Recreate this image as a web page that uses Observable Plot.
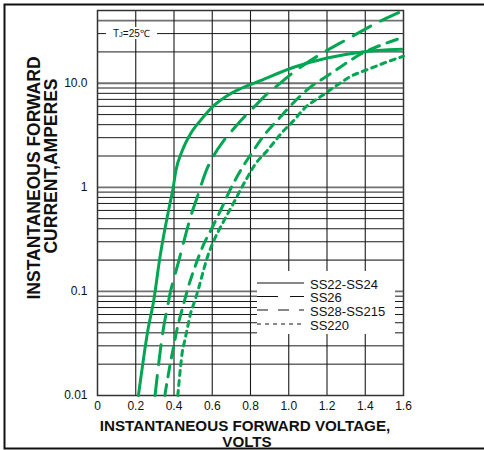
<!DOCTYPE html>
<html><head><meta charset="utf-8">
<script src="https://cdn.jsdelivr.net/npm/d3@7"></script>
<script src="https://cdn.jsdelivr.net/npm/@observablehq/plot@0.6"></script>
<style>
body{margin:0;background:#fff;}
#chart{width:484px;height:450px;position:relative;overflow:hidden;}
</style></head><body><div id="chart"></div>
<script>
// ---- data ----
const seriesNames = ["SS22-SS24", "SS26", "SS28-SS215", "SS220"];

const ss22V = [0.214,0.263,0.294,0.326,0.382,0.394,0.41,0.443,0.486,0.543,0.608,0.678,0.755,0.852,1.026,1.201,1.375,1.59];
const ss22A = [0.01,0.042,0.082,0.21,0.745,0.95,1.45,2.25,3.26,4.5,6.1,7.6,9.0,10.6,14.25,17.5,19.9,21.2];

const ss26V = [0.301,0.3205,0.342,0.364,0.382,0.399,0.425,0.443,0.469,0.486,0.521,0.574,0.608,0.660,0.704,0.774,0.817,0.887,0.940,1.026,1.156,1.312,1.454,1.6];
const ss26A = [0.01,0.0206,0.041,0.068,0.1,0.132,0.197,0.265,0.398,0.515,0.80,1.53,2.02,2.81,3.51,4.89,5.88,7.9,9.5,12.8,18.5,26.9,37.5,50];

const ss28V = [0.352,0.376,0.396,0.418,0.448,0.477,0.512,0.552,0.600,0.647,0.687,0.748,0.809,0.870,0.952,1.032,1.118,1.196,1.284,1.379,1.476,1.6];
const ss28A = [0.01,0.0182,0.0284,0.0451,0.0728,0.114,0.177,0.275,0.412,0.619,0.896,1.45,2.17,3.14,4.65,6.71,9.33,11.6,14.9,19.2,23.0,27.7];

const ss220V = [0.42,0.434,0.443,0.456,0.469,0.486,0.509,0.530,0.556,0.574,0.608,0.652,0.704,0.774,0.826,0.887,0.974,1.026,1.079,1.175,1.262,1.323,1.419,1.489,1.6];
const ss220A = [0.01,0.0186,0.0259,0.0336,0.0435,0.0607,0.0815,0.109,0.164,0.212,0.307,0.445,0.667,1.16,1.68,2.25,3.51,4.38,5.67,7.62,9.86,11.6,13.7,15.4,18.2];

const xTicks = [0,0.2,0.4,0.6,0.8,1.0,1.2,1.4,1.6];
const xTickLabels = ["0","0.2","0.4","0.6","0.8","1.0","1.2","1.4","1.6"];
const yTicks = [0.01,0.1,1,10,50];
const yTickLabels = ["0.01","0.1","1","10.0","50"];

const xTitle1 = "INSTANTANEOUS FORWARD VOLTAGE,";
const xTitle2 = "VOLTS";
const yTitle1 = "INSTANTANEOUS FORWARD";
const yTitle2 = "CURRENT,AMPERES";
const noteLabel = ["T", "J", "=25℃"];

// ---- build ----
const seriesV = [ss22V, ss26V, ss28V, ss220V];
const seriesA = [ss22A, ss26A, ss28A, ss220A];
const dashes = [null, "20,11", "11,8", "5,5"];
const legendDashes = [null, "21,12", "11,10", "4,4"];
const green = "#00a651";

const tables = seriesNames.map((name, k) => seriesV[k].map((v, i) => ({series: name, v, a: seriesA[k][i]})));

// log grid positions (1..9 per decade)
const yGrid = [];
for (const dec of [0.01, 0.1, 1, 10]) for (let m = 1; m <= 9; m++) { const val = +(dec * m).toPrecision(3); if (val <= 50) yGrid.push(val); }
const yGray = [0.1, 0.2, 1, 10, 40];
const yBlack = yGrid.filter(d => !yGray.includes(d));
const xGrid = xTicks.slice(1, -1);

const font = "Arial, 'Liberation Sans', Helvetica, sans-serif";

const plot = Plot.plot({
  width: 484, height: 450,
  marginLeft: 97, marginRight: 81, marginTop: 10, marginBottom: 55,
  style: {fontFamily: font, fontSize: "12px", background: "white", color: "#111"},
  x: {domain: [0, 1.6]},
  y: {type: "log", domain: [0.01, 50]},
  marks: [
    Plot.ruleY(yBlack, {stroke: "#1a1a1a", strokeWidth: 1}),
    Plot.ruleY(yGray, {stroke: "#707070", strokeWidth: 1.8}),
    Plot.ruleX(xGrid, {stroke: "#1a1a1a", strokeWidth: 1.1}),
    Plot.frame({stroke: "#333", strokeWidth: 1.5}),
    Plot.axisX(xTicks, {tickSize: 0, tickPadding: 6, label: null, tickFormat: d => xTickLabels[xTicks.indexOf(d)]}),
    Plot.axisY(yTicks, {tickSize: 0, tickPadding: 10, label: null, tickFormat: d => yTickLabels[yTicks.indexOf(d)]}),
    ...tables.map((t, k) => Plot.line(t, {x: "v", y: "a", stroke: green, strokeWidth: 3, strokeDasharray: dashes[k] ?? undefined, curve: "monotone-x"}))
  ]
});
document.getElementById("chart").append(plot);

const svg = d3.select(plot);

// TJ note with white background on the grid line
const note = svg.append("g").attr("text-anchor", "start");
note.append("rect").attr("x", 106).attr("y", 27).attr("width", 51).attr("height", 12).attr("fill", "white");
const nt = note.append("text").attr("x", 113).attr("y", 37).attr("font-family", font).attr("font-size", 10).attr("fill", "#111");
nt.append("tspan").text(noteLabel[0]);
nt.append("tspan").attr("font-size", 7.5).text(noteLabel[1]);
nt.append("tspan").text(noteLabel[2]);

// legend
const lg = svg.append("g").attr("text-anchor", "start");
lg.append("rect").attr("x", 257).attr("y", 271).attr("width", 138).attr("height", 63).attr("fill", "white");
const rowsY = [284, 297.5, 311, 325];
seriesNames.forEach((name, k) => {
  const ln = lg.append("line").attr("x1", 257).attr("x2", 304).attr("y1", rowsY[k] - 1).attr("y2", rowsY[k] - 1)
    .attr("stroke", "#111").attr("stroke-width", 1);
  if (legendDashes[k]) ln.attr("stroke-dasharray", legendDashes[k]);
  lg.append("text").attr("x", 310).attr("y", rowsY[k]).attr("dy", "0.35em").attr("font-family", font)
    .attr("font-size", 13).attr("fill", "#111").text(name);
});

// axis titles
const tt = svg.append("g").attr("font-family", font).attr("font-weight", "bold").attr("fill", "#111").attr("text-anchor", "middle");
tt.append("text").attr("x", 245).attr("y", 426).attr("dy", "0.35em").attr("font-size", 15.2).text(xTitle1);
tt.append("text").attr("x", 247).attr("y", 442).attr("dy", "0.35em").attr("font-size", 15.2).text(xTitle2);
tt.append("text").attr("transform", "translate(33.5,178) rotate(-90)").attr("dy", "0.35em").attr("font-size", 17.5).text(yTitle1);
tt.append("text").attr("transform", "translate(51,166) rotate(-90)").attr("dy", "0.35em").attr("font-size", 17.5).text(yTitle2);

// outer border
svg.append("rect").attr("x", 4.5).attr("y", 4.5).attr("width", 490).attr("height", 444)
  .attr("fill", "none").attr("stroke", "#111").attr("stroke-width", 2);
</script>
</body></html>
